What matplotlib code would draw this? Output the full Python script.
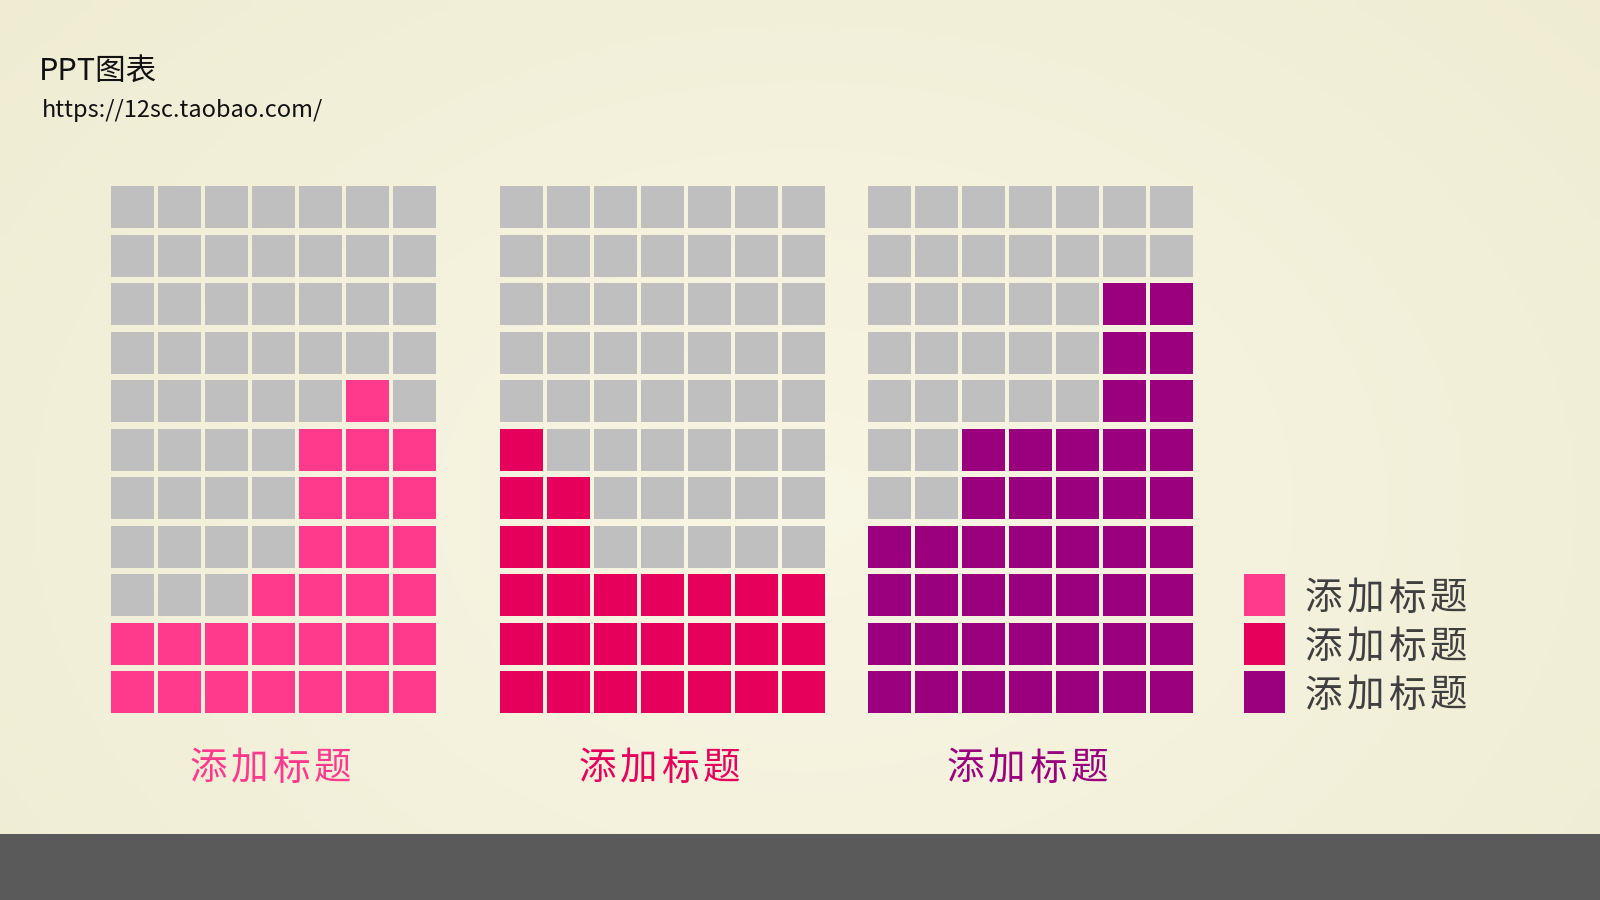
import numpy as np
import matplotlib
matplotlib.use("Agg")
import matplotlib.pyplot as plt
from matplotlib.patches import Rectangle

plt.rcParams['font.family'] = ['Noto Sans CJK SC', 'DejaVu Sans']

# data: number of filled cells per column (bottom-up), 7 columns x 11 rows
categories = ["添加标题", "添加标题", "添加标题"]
legend_labels = ["添加标题", "添加标题", "添加标题"]
heights_1 = [2, 2, 2, 3, 6, 7, 6]
heights_2 = [6, 5, 3, 3, 3, 3, 3]
heights_3 = [4, 4, 6, 6, 6, 9, 9]
series = [heights_1, heights_2, heights_3]

N_ROWS = 11
COLORS = ['#FF3A8C', '#E6005C', '#9A007E']
GRAY = '#C0BFC0'
TEXT_DARK = '#3F3F3F'

# layout in pixels
GRID_LEFT = [111, 500, 868]
GRID_TOP = 186
PITCH_X, PITCH_Y = 47, 48.5
CELL_W, CELL_H = 43, 42
CHAR_PITCH = 41.5


def spaced_text(ax, x, y, s, color, size, pitch, center=False):
    # draw CJK text one glyph at a time to get the wide letter spacing
    if center:
        x = x - pitch * len(s) / 2
    for k, ch in enumerate(s):
        ax.text(x + (k + 0.5) * pitch, y, ch, color=color, fontsize=size,
                ha='center', va='center', zorder=3)


fig = plt.figure(figsize=(16, 9), dpi=100)
ax = fig.add_axes([0, 0, 1, 1])
ax.set_xlim(0, 1600)
ax.set_ylim(900, 0)
ax.axis('off')

# background gradient
yy, xx = np.mgrid[0:90, 0:160]
d = np.sqrt(((xx - 80) / 110.0) ** 2 + ((yy - 50) / 80.0) ** 2)
d = np.clip(d, 0, 1)
c_in = np.array([248, 246, 228]) / 255
c_out = np.array([239, 236, 211]) / 255
bg = c_in[None, None, :] * (1 - d[..., None]) + c_out[None, None, :] * d[..., None]
ax.imshow(bg, extent=(0, 1600, 900, 0), aspect='auto', interpolation='bicubic',
          zorder=0)
ax.add_patch(Rectangle((0, 834), 1600, 66, color='#5A5A5A', lw=0, zorder=1))

# waffle grids
for g, heights in enumerate(series):
    for col, h in enumerate(heights):
        for row in range(N_ROWS):
            filled = row >= N_ROWS - h
            x = GRID_LEFT[g] + col * PITCH_X
            y = GRID_TOP + row * PITCH_Y
            ax.add_patch(Rectangle((x, y), CELL_W, CELL_H, lw=0, zorder=2,
                                   color=COLORS[g] if filled else GRAY))
    cx = GRID_LEFT[g] + (6 * PITCH_X + CELL_W) / 2
    spaced_text(ax, cx - 3, 769, categories[g], COLORS[g], 27, CHAR_PITCH,
                center=True)

# legend
for i, lab in enumerate(legend_labels):
    y = GRID_TOP + (8 + i) * PITCH_Y
    ax.add_patch(Rectangle((1244, y), 41, CELL_H, color=COLORS[i], lw=0,
                           zorder=2))
    spaced_text(ax, 1303, y + CELL_H / 2 + 4, lab, TEXT_DARK, 27, CHAR_PITCH)

# header
ax.text(39, 71, "PPT图表", color='#111111', fontsize=22, ha='left',
        va='center', zorder=3)
ax.text(42, 110, "https://12sc.taobao.com/", color='#111111', fontsize=17,
        ha='left', va='center', zorder=3)

fig.savefig("out.png", dpi=100)
